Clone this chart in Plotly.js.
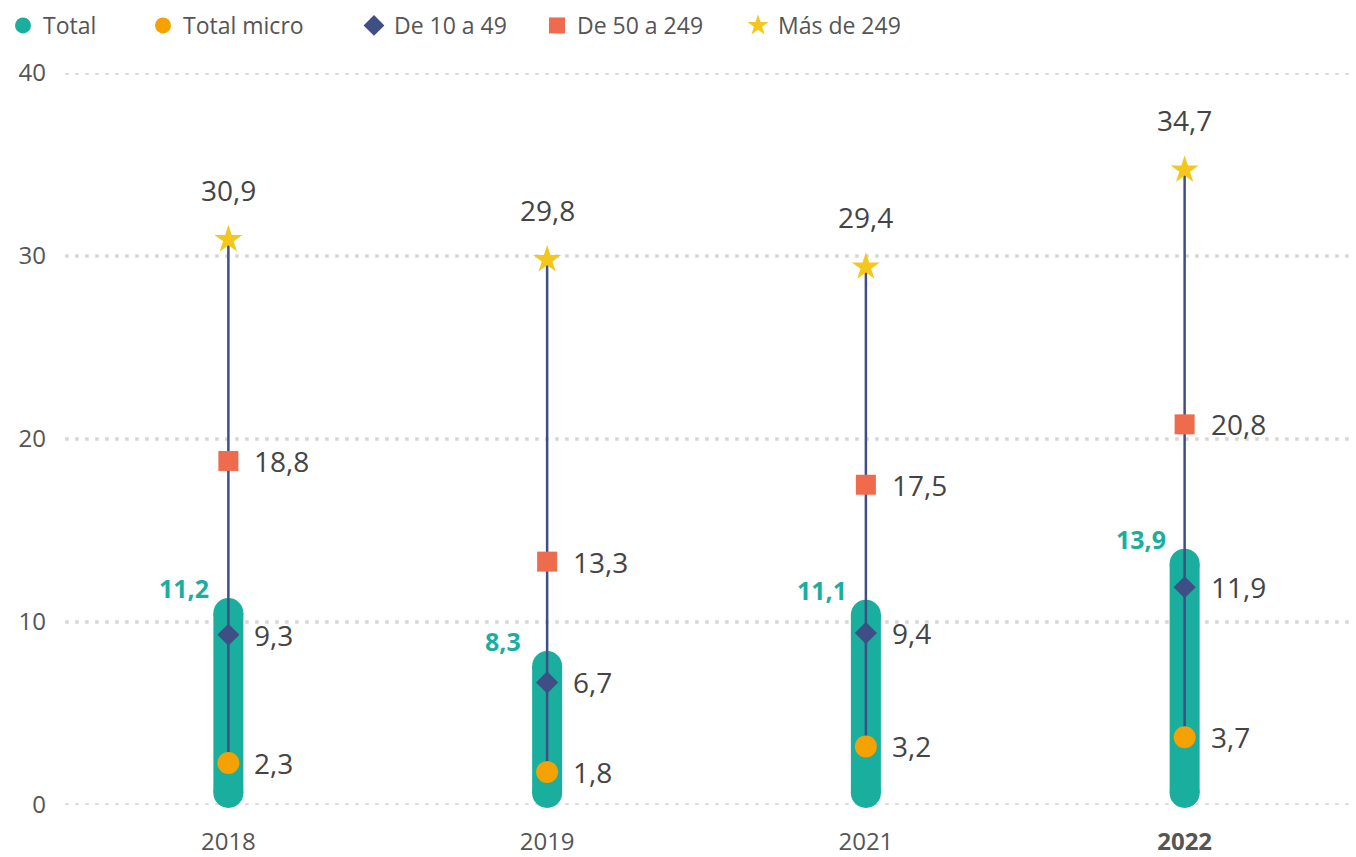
<!DOCTYPE html>
<html>
<head>
<meta charset="utf-8">
<script src="https://cdn.plot.ly/plotly-3.0.1.min.js"></script>
<style>html,body{margin:0;padding:0;background:#fff;}</style>
</head>
<body>
<div id="chart" style="width:1356px;height:857px;"></div>
<script>
// ---- data ----
const years = ['2018', '2019', '2021', '2022'];
const tickLabels = ['2018', '2019', '2021', '<b>2022</b>'];
const total = [11.2, 8.3, 11.1, 13.9];
const totalMicro = [2.3, 1.8, 3.2, 3.7];
const de10a49 = [9.3, 6.7, 9.4, 11.9];
const de50a249 = [18.8, 13.3, 17.5, 20.8];
const mas249 = [30.9, 29.8, 29.4, 34.7];
const seriesNames = ['Total', 'Total micro', 'De 10 a 49', 'De 50 a 249', 'Más de 249'];
const yTicks = [0, 10, 20, 30, 40];

// ---- styling ----
const C = {teal: '#1aae9f', orange: '#f5a100', navy: '#3e4f85', coral: '#ee6b4e', gold: '#f5c71c', text: '#444444', tick: '#555555', grid: '#d6d6d6'};
const FONT = '"Open Sans", sans-serif';
const W = 1356, H = 857, M = {l: 69, r: 12, t: 73, b: 52};
const yMax = 40;
const pxPerUnit = (H - M.t - M.b) / yMax;
const barW = 30;
const capR = (barW / 2) / pxPerUnit;
const fmt = v => v.toFixed(1).replace('.', ',');
const xi = years.map((_, i) => i);

// thick rounded "Total" column: body line + round caps
const bodyX = [], bodyY = [], capX = [], capY = [];
xi.forEach(i => {
  const lo = capR - 3 / pxPerUnit;
  const hi = total[i] - capR + 2 / pxPerUnit;
  bodyX.push(i, i, null); bodyY.push(lo, hi, null);
  capX.push(i, i); capY.push(lo, hi);
});

// thin range line from min to max
const rngX = [], rngY = [];
xi.forEach(i => {
  const vals = [totalMicro[i], de10a49[i], de50a249[i], mas249[i]];
  rngX.push(i, i, null);
  rngY.push(Math.min(...vals), Math.max(...vals), null);
});

const traces = [
  {x: bodyX, y: bodyY, mode: 'lines', line: {color: C.teal, width: barW}, showlegend: false, hoverinfo: 'skip', cliponaxis: false},
  {x: capX, y: capY, mode: 'markers', name: seriesNames[0], legend: 'legend', marker: {color: C.teal, size: barW, symbol: 'circle'}, cliponaxis: false, hoverinfo: 'skip'},
  {x: rngX, y: rngY, mode: 'lines', line: {color: C.navy, width: 2.5}, showlegend: false, hoverinfo: 'skip', cliponaxis: false},
  {x: xi, y: totalMicro, mode: 'markers', name: seriesNames[1], legend: 'legend2', marker: {color: C.orange, size: 22, symbol: 'circle'}, cliponaxis: false},
  {x: xi, y: de10a49, mode: 'markers', name: seriesNames[2], legend: 'legend3', marker: {color: C.navy, size: 17, symbol: 'diamond'}, cliponaxis: false},
  {x: xi, y: de50a249, mode: 'markers', name: seriesNames[3], legend: 'legend4', marker: {color: C.coral, size: 20, symbol: 'square'}, cliponaxis: false},
  {x: xi, y: mas249, mode: 'markers', name: seriesNames[4], legend: 'legend5', marker: {color: C.gold, size: 21, symbol: 'star'}, cliponaxis: false}
];

const annotations = [];
const lblFont = {family: FONT, size: 28, color: C.text};
xi.forEach(i => {
  [totalMicro, de10a49, de50a249].forEach(arr => {
    annotations.push({x: i, y: arr[i], xref: 'x', yref: 'y', text: fmt(arr[i]), showarrow: false,
      xanchor: 'left', yanchor: 'middle', xshift: 24, font: lblFont});
  });
  annotations.push({x: i, y: mas249[i], xref: 'x', yref: 'y', text: fmt(mas249[i]), showarrow: false,
    xanchor: 'center', yanchor: 'middle', yshift: 50, font: lblFont});
  annotations.push({x: i, y: total[i], xref: 'x', yref: 'y', text: '<b>' + fmt(total[i]) + '</b>', showarrow: false,
    xanchor: 'center', yanchor: 'middle', xshift: -44, yshift: 12, font: {family: FONT, size: 25, color: C.teal}});
});

// dotted horizontal gridlines at the y ticks
const shapes = yTicks.map(v => ({type: 'line', xref: 'paper', yref: 'y', x0: -0.003, x1: 1.005, y0: v, y1: v,
  layer: 'below', line: {color: C.grid, width: 3.5, dash: '3.5px,6.5px'}}));

const legendIconX = [22, 162, 373, 556, 757];
const legendBase = {orientation: 'h', xref: 'container', xanchor: 'left', yref: 'container', yanchor: 'top',
  y: 1 - 4 / H, font: {family: FONT, size: 23, color: C.tick}, itemclick: false, itemdoubleclick: false,
  bgcolor: 'rgba(0,0,0,0)'};
const mkLegend = k => Object.assign({}, legendBase, {x: (legendIconX[k] - 19) / W});

const layout = {
  width: W, height: H,
  margin: M,
  paper_bgcolor: '#ffffff', plot_bgcolor: '#ffffff',
  font: {family: FONT, color: C.text},
  showlegend: true,
  legend: mkLegend(0), legend2: mkLegend(1), legend3: mkLegend(2), legend4: mkLegend(3), legend5: mkLegend(4),
  xaxis: {range: [-0.5, years.length - 0.5], tickvals: xi, ticktext: tickLabels, showgrid: false, zeroline: false,
    showline: false, ticks: '', tickfont: {family: FONT, size: 24, color: C.tick}, ticklabelstandoff: 20, fixedrange: true},
  yaxis: {range: [0, yMax], tickvals: yTicks, showgrid: false, zeroline: false, showline: false, ticks: '',
    tickfont: {family: FONT, size: 24, color: C.tick}, ticklabelstandoff: 22, fixedrange: true},
  shapes: shapes,
  annotations: annotations
};

Plotly.newPlot('chart', traces, layout, {displayModeBar: false, staticPlot: true});
</script>
</body>
</html>
